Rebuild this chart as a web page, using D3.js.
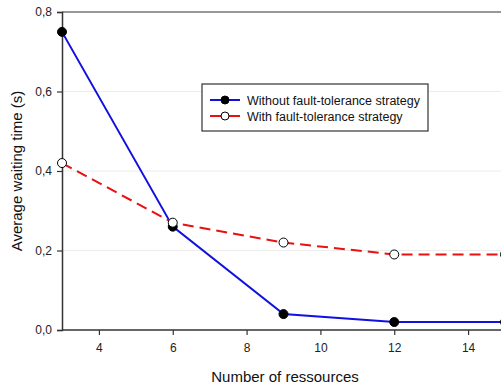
<!DOCTYPE html>
<html>
<head>
<meta charset="utf-8">
<script src="https://cdn.jsdelivr.net/npm/d3@7"></script>
<style>
  html, body { margin: 0; padding: 0; background: #fff; overflow: hidden; }
  svg { display: block; font-family: "Liberation Sans", Arial, sans-serif; }
</style>
</head>
<body>
<svg id="chart" width="501" height="386"></svg>
<script>
// Number of resources on the x axis
const resources = [3, 6, 9, 12, 15];
// Average waiting time (s) per strategy
const withoutFT = [0.75, 0.26, 0.04, 0.02, 0.02];
const withFT = [0.42, 0.27, 0.22, 0.19, 0.19];
const xTicks = [4, 6, 8, 10, 12, 14];
const yTicks = [0, 0.2, 0.4, 0.6, 0.8];
const gridTicks = [0.2, 0.4, 0.6];
const seriesNames = ["Without fault-tolerance strategy", "With fault-tolerance strategy"];

const svg = d3.select("#chart");
const plotLeft = 62, plotTop = 12, plotBottom = 330, plotRight = 505;

const x = d3.scaleLinear().domain([3, 15]).range([plotLeft, plotRight]);
const y = d3.scaleLinear().domain([0, 0.8]).range([plotBottom, plotTop]);
const fmt = d => d3.format(".1f")(d).replace(".", ",");

// light horizontal grid
svg.append("g").selectAll("line").data(gridTicks).join("line")
  .attr("x1", plotLeft).attr("x2", plotRight)
  .attr("y1", d => y(d)).attr("y2", d => y(d))
  .attr("stroke", "#ececec").attr("stroke-width", 1);

// frame top line
svg.append("line").attr("x1", plotLeft).attr("x2", plotRight)
  .attr("y1", plotTop).attr("y2", plotTop)
  .attr("stroke", "#333").attr("stroke-width", 1.2);

// axes
const xAxis = svg.append("g").attr("transform", `translate(0,${plotBottom})`)
  .call(d3.axisBottom(x).tickValues(xTicks).tickSize(5).tickPadding(8).tickFormat(d3.format("d")));
const yAxis = svg.append("g").attr("transform", `translate(${plotLeft},0)`)
  .call(d3.axisLeft(y).tickValues(yTicks).tickSize(5).tickPadding(5).tickFormat(fmt));
[xAxis, yAxis].forEach(g => {
  g.select(".domain").attr("stroke", "#333").attr("stroke-width", 1.5);
  g.selectAll(".tick line").attr("stroke", "#333").attr("stroke-width", 1.2);
  g.selectAll("text").attr("fill", "#222").style("font-size", "12px")
    .style("font-family", "'Liberation Sans', Arial, sans-serif");
});
xAxis.select(".domain").attr("d", `M${plotLeft},0H${plotRight}`);

// axis titles
svg.append("text").attr("x", 285).attr("y", 382)
  .attr("text-anchor", "middle").attr("font-size", 15).attr("fill", "#111")
  .text("Number of ressources");
svg.append("text")
  .attr("transform", `translate(22,${(plotTop + plotBottom) / 2}) rotate(-90)`)
  .attr("text-anchor", "middle").attr("font-size", 15).attr("fill", "#111")
  .text("Average waiting time (s)");

const line = d3.line().x((d, i) => x(resources[i])).y(d => y(d));

const plot = svg.append("g");
// without fault tolerance: solid blue with black dots
plot.append("path").datum(withoutFT).attr("d", line)
  .attr("fill", "none").attr("stroke", "#1010e0").attr("stroke-width", 2);
// with fault tolerance: dashed red with white dots
plot.append("path").datum(withFT).attr("d", line)
  .attr("fill", "none").attr("stroke", "#e81010").attr("stroke-width", 2)
  .attr("stroke-dasharray", "11,6");

plot.append("g").selectAll("circle").data(withoutFT).join("circle")
  .attr("cx", (d, i) => x(resources[i])).attr("cy", d => y(d)).attr("r", 4.5)
  .attr("fill", "#000").attr("stroke", "#000").attr("stroke-width", 1);
plot.append("g").selectAll("circle").data(withFT).join("circle")
  .attr("cx", (d, i) => x(resources[i])).attr("cy", d => y(d)).attr("r", 4.5)
  .attr("fill", "#fff").attr("stroke", "#000").attr("stroke-width", 1);

// legend
const lg = svg.append("g");
lg.append("rect").attr("x", 202).attr("y", 84).attr("width", 226).attr("height", 47)
  .attr("fill", "#fff").attr("stroke", "#333").attr("stroke-width", 1.2);
const colors = ["#1010e0", "#e81010"];
const fills = ["#000", "#fff"];
seriesNames.forEach((name, i) => {
  const cy = 100 + i * 16;
  lg.append("line").attr("x1", 210).attr("x2", 240).attr("y1", cy).attr("y2", cy)
    .attr("stroke", colors[i]).attr("stroke-width", 2);
  lg.append("circle").attr("cx", 225).attr("cy", cy).attr("r", 4)
    .attr("fill", fills[i]).attr("stroke", "#000").attr("stroke-width", 1);
  lg.append("text").attr("x", 247).attr("y", cy + 4.5)
    .attr("font-size", 12.5).attr("fill", "#111").text(name);
});
</script>
</body>
</html>
